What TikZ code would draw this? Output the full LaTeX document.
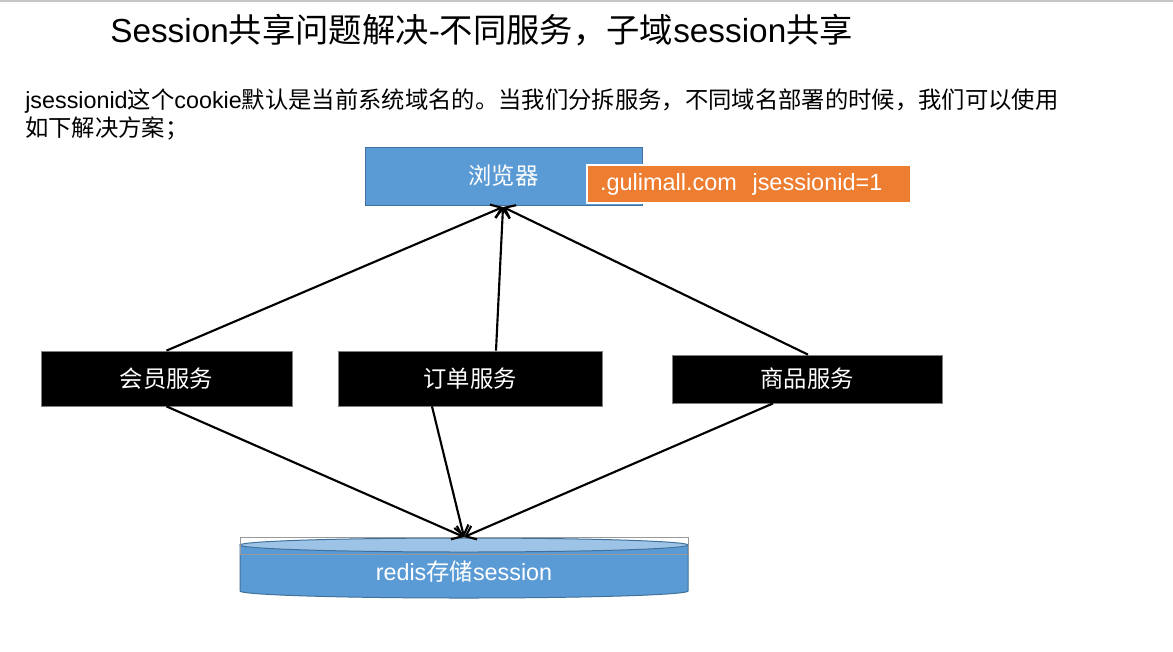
\documentclass[tikz,border=0pt]{standalone}
\usepackage{fontspec}
\setmainfont{Liberation Sans}
\newfontfamily\cjk{Noto Sans CJK SC}
\usetikzlibrary{arrows.meta,calc}
\definecolor{boxblue}{HTML}{5B9BD5}
\definecolor{boxline}{HTML}{41719C}
\definecolor{toplight}{HTML}{9DC3E6}
\definecolor{orange1}{HTML}{ED7D31}
\tikzset{
  txt/.style={inner sep=0pt, text=black},
  bluebox/.style={draw=boxline, line width=0.75pt, fill=boxblue, text=white, font=\fontsize{17.5}{20}\selectfont},
  orangebox/.style={draw=white, line width=1.2pt, fill=orange1, text=white, font=\fontsize{17.6}{20}\selectfont, align=left},
  blackbox/.style={draw=gray, line width=0.6pt, fill=black, text=white, font=\fontsize{17.5}{20}\selectfont},
  conn/.style={line width=1.6pt, -{Straight Barb[length=7pt,width=11pt,line width=1.6pt]}},
}
\begin{document}
\begin{tikzpicture}[x=0.75pt,y=-0.75pt]
\useasboundingbox (0,0) rectangle (1173,651);
\fill[white] (0,0) rectangle (1173,651);
\draw[line width=1.5pt, draw=black!22] (0,1) -- (1173,1);
% title and description
\node[txt, anchor=west, font=\fontsize{25}{28}\selectfont] (title) at (110,30)
  {Session{\cjk 共享问题解决}-{\cjk 不同服务，子域}session{\cjk 共享}};
\node[txt, anchor=west, align=left, font=\fontsize{17.5}{21}\selectfont] (desc) at (25,115)
  {jsessionid{\cjk 这个}cookie{\cjk 默认是当前系统域名的。当我们分拆服务，不同域名部署的时候，我们可以使用}\\{\cjk 如下解决方案；}};
% browser
\node[bluebox, minimum width=207.75pt, minimum height=43.5pt] (browser) at (503.5,176) {\cjk 浏览器};
\node[orangebox, minimum width=243pt, minimum height=28.5pt, inner xsep=9.75pt, text width=223.5pt] (cookie) at (749,184)
  {.gulimall.com\ \ jsessionid=1};
% services
\node[blackbox, minimum width=188.25pt, minimum height=41.25pt] (member) at (166.5,378.5) {\cjk 会员服务};
\node[blackbox, minimum width=198pt, minimum height=41.25pt] (order) at (470,378.5) {\cjk 订单服务};
\node[blackbox, minimum width=202.5pt, minimum height=36pt] (product) at (807,379) {\cjk 商品服务};
% redis cylinder
\filldraw[fill=boxblue, draw=boxline, line width=0.75pt]
  (240,545) -- (240,591) arc[start angle=180, end angle=0, x radius=224, y radius=7] -- (688,545) -- cycle;
\filldraw[fill=toplight, draw=boxline, line width=0.75pt] (464,545) ellipse [x radius=224, y radius=7];
\draw[draw=black!40, line width=0.6pt] (240,537) rectangle (688,554);
\node[txt, text=white, font=\fontsize{17.5}{20}\selectfont] (redis) at (464,572) {redis{\cjk 存储}session};
\coordinate (redistop) at (464,537);
\coordinate (browsertop) at (503,207);
% connectors
\draw[conn] (member.north) -- (browsertop);
\draw[conn] ($(order.north)+(26,0)$) -- (browsertop);
\draw[conn] ($(product.north)+(1,0)$) -- (browsertop);
\draw[conn] (member.south) -- (redistop);
\draw[conn] ($(order.south)+(-38,0)$) -- (redistop);
\draw[conn] ($(product.south)+(-34,0)$) -- (redistop);
\end{tikzpicture}
\end{document}
